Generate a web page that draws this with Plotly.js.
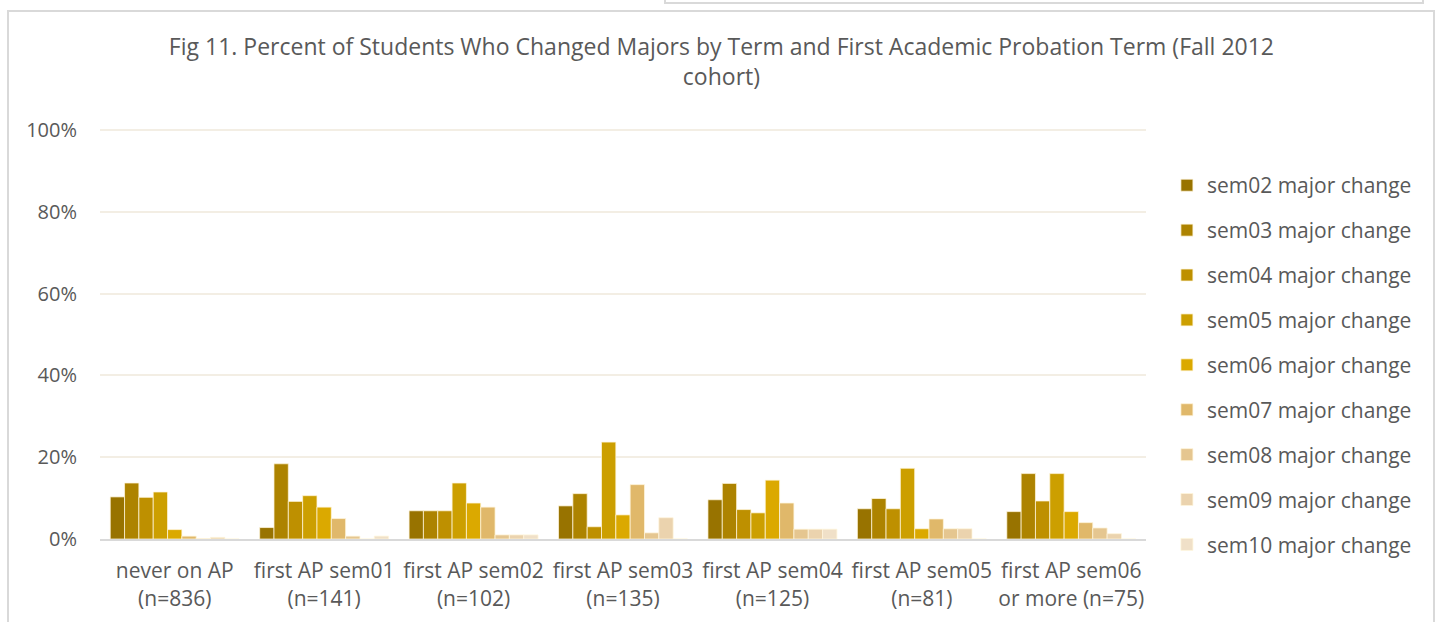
<!DOCTYPE html>
<html>
<head>
<meta charset="utf-8">
<script src="https://cdn.plot.ly/plotly-3.0.1.min.js"></script>
<style>
  html, body { margin: 0; padding: 0; background: #ffffff; width: 1440px; height: 622px; overflow: hidden; }
  #frame { position: absolute; left: 7px; top: 10px; width: 1428px; height: 640px; border: 2px solid #D9D9D9; box-sizing: border-box; }
  #topbox { position: absolute; left: 664px; top: -10px; width: 760px; height: 14px; border: 2px solid #D9D9D9; box-sizing: border-box; background: #fff; }
  #chart { position: absolute; left: 0; top: 0; width: 1440px; height: 622px; }
</style>
</head>
<body>
<div id="topbox"></div>
<div id="frame"></div>
<div id="chart"></div>
<script>
const categories = [
  "never on AP<br>(n=836)",
  "first AP sem01<br>(n=141)",
  "first AP sem02<br>(n=102)",
  "first AP sem03<br>(n=135)",
  "first AP sem04<br>(n=125)",
  "first AP sem05<br>(n=81)",
  "first AP sem06<br>or more (n=75)"
];
const seriesNames = [
  "sem02 major change", "sem03 major change", "sem04 major change",
  "sem05 major change", "sem06 major change", "sem07 major change",
  "sem08 major change", "sem09 major change", "sem10 major change"
];
// percent values per series, one per category
const sem02 = [10.3, 2.8, 6.9, 8.1, 9.6, 7.4, 6.7];
const sem03 = [13.7, 18.4, 6.9, 11.1, 13.6, 9.9, 16.0];
const sem04 = [10.2, 9.2, 6.9, 3.0, 7.2, 7.4, 9.3];
const sem05 = [11.5, 10.6, 13.7, 23.7, 6.4, 17.3, 16.0];
const sem06 = [2.3, 7.8, 8.8, 5.9, 14.4, 2.5, 6.7];
const sem07 = [0.7, 5.0, 7.8, 13.3, 8.8, 4.9, 4.0];
const sem08 = [0.1, 0.7, 1.0, 1.5, 2.4, 2.5, 2.7];
const sem09 = [0.4, 0.0, 1.0, 5.2, 2.4, 2.5, 1.3];
const sem10 = [0.0, 0.7, 1.0, 0.0, 2.4, 0.0, 0.0];
const seriesValues = [sem02, sem03, sem04, sem05, sem06, sem07, sem08, sem09, sem10];
const colors = ["#987300", "#AD8300", "#BE9000", "#CC9F00", "#DBA900", "#E0B86A", "#E5C690", "#EBD3AE", "#F0E0C8"];
const yTicks = [0, 20, 40, 60, 80, 100];
const yTickText = ["0%", "20%", "40%", "60%", "80%", "100%"];

const FONT = "'Open Sans', sans-serif";

const traces = seriesNames.map((name, i) => ({
  type: "bar",
  name: name,
  x: categories,
  y: seriesValues[i],
  legendgroup: "g" + i,
  marker: { color: colors[i], line: { color: "rgba(255,245,220,0.75)", width: 1 } },
  hoverinfo: "name+y"
}));

const layout = {
  width: 1440,
  height: 622,
  paper_bgcolor: "rgba(0,0,0,0)",
  plot_bgcolor: "rgba(0,0,0,0)",
  margin: { l: 100, r: 294, t: 129, b: 83, pad: 0 },
  barmode: "group",
  bargap: 0.137,
  bargroupgap: 0,
  font: { family: FONT, color: "#595959", size: 20 },
  title: {
    text: "Fig 11. Percent of Students Who Changed Majors by Term and First Academic Probation Term (Fall 2012<br>cohort)",
    font: { family: FONT, size: 23, color: "#595959" },
    x: 0.501, xref: "container", xanchor: "center",
    y: 0.912, yref: "container", yanchor: "top"
  },
  xaxis: {
    type: "category",
    showgrid: false,
    showline: true,
    linecolor: "#D9D9D9",
    linewidth: 2,
    ticks: "",
    ticklabelstandoff: 12,
    tickfont: { family: FONT, size: 21, color: "#595959" },
    fixedrange: true
  },
  yaxis: {
    range: [0, 100.3],
    tickvals: yTicks,
    ticktext: yTickText,
    showgrid: true,
    gridcolor: "#F3EEE4",
    gridwidth: 2,
    zeroline: false,
    showline: false,
    ticks: "outside",
    ticklen: 18,
    tickcolor: "rgba(0,0,0,0)",
    tickfont: { family: FONT, size: 20, color: "#595959" },
    fixedrange: true
  },
  showlegend: true,
  legend: {
    x: 1.0200, xanchor: "left",
    y: 0.912, yanchor: "top",
    traceorder: "grouped",
    tracegroupgap: 14.6,
    font: { family: FONT, size: 21, color: "#595959" },
    itemwidth: 30,
    bgcolor: "rgba(0,0,0,0)"
  }
};

Plotly.newPlot("chart", traces, layout, { displayModeBar: false, staticPlot: true });
</script>
</body>
</html>
